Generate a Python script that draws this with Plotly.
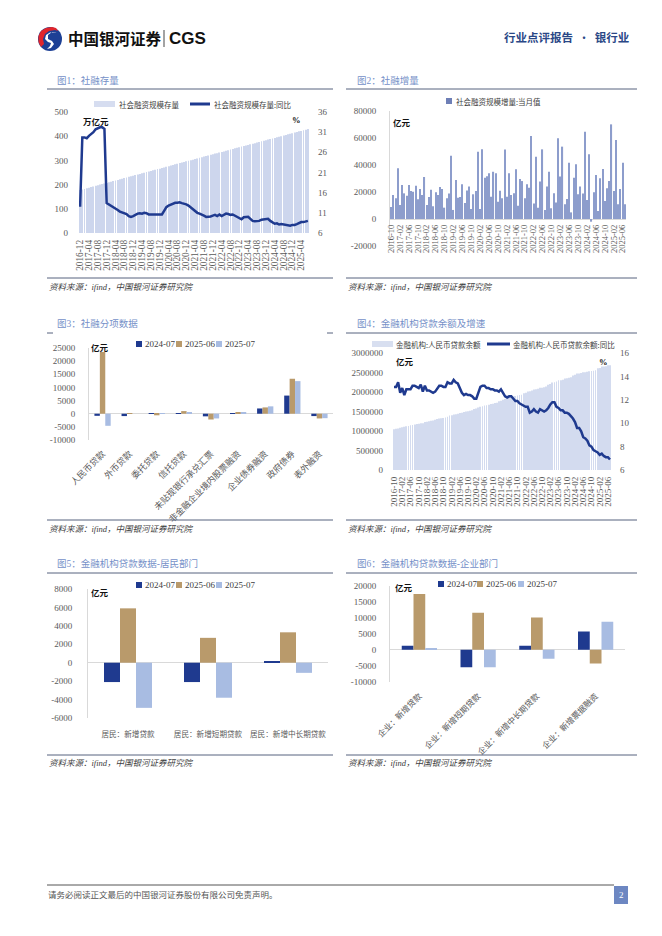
import plotly.graph_objects as go

W, H = 662, 936
def X(p): return p / W
def Y(p): return 1 - p / H

SERIF = "Liberation Serif, Noto Sans CJK SC, serif"
SANS = "Noto Sans CJK SC, Liberation Sans, sans-serif"

TITLE_C = "#7590c8"
RULE_C = "#56627e"
TICK_C = "#595959"
NAVY = "#1f3a8f"
TAN = "#b99a6b"
LIGHT = "#a8bce2"
AXIS_C = "#d9d9d9"
C1_BAR = "#cdd6ed"
C2_BAR = "#8d9dcc"
C4_BAR = "#d3dbef"


def month_list(y, m, n):
    out = []
    for _ in range(n):
        out.append(f"{y}-{m:02d}")
        m += 1
        if m > 12:
            m, y = 1, y + 1
    return out

# ---------------- Chart 1: 社融存量 (万亿元) & 同比 (%) ----------------
c1_months = month_list(2016, 12, 104)
c1_stock = [
    178,
    180, 182, 185, 187, 190, 192, 195, 197, 200, 202, 205, 207,
    210, 212, 215, 217, 219, 222, 224, 227, 229, 232, 234, 237,
    240, 242, 244, 247, 249, 252, 254, 256, 259, 261, 264, 266,
    269, 271, 274, 276, 279, 281, 284, 286, 289, 291, 293, 296,
    299, 301, 303, 306, 308, 311, 313, 316, 318, 320, 323, 325,
    328, 330, 333, 335, 337, 340, 342, 345, 347, 350, 352, 354,
    357, 359, 362, 364, 367, 369, 371, 374, 376, 379, 381, 383,
    386, 388, 391, 393, 396, 398, 400, 403, 405, 408, 410, 412,
    415, 417, 420, 422, 425, 427, 430,
]
c1_yoy = [
    12.5,
    29.7, 29.7, 29.5, 30.1, 30.5, 31.0, 31.7, 32.0, 32.2, 32.2, 31.8, 13.4,
    13.1, 12.8, 12.5, 12.1, 11.7, 11.3, 11.1, 10.9, 10.7, 10.2, 10.0, 10.2,
    10.6, 10.8, 10.9, 10.8, 11.0, 10.9, 10.6, 10.6, 10.6, 10.6, 10.6, 10.6,
    10.6, 11.5, 12.4, 12.8, 13.1, 13.4, 13.5, 13.5, 13.6, 13.4, 13.3, 13.1,
    12.8, 12.3, 11.8, 11.4, 11.0, 10.8, 10.6, 10.3, 10.0, 10.0, 10.1, 10.3,
    10.5, 10.2, 10.6, 10.2, 10.5, 10.8, 10.7, 10.5, 10.6, 10.3, 10.0, 9.6,
    9.4, 9.9, 10.0, 10.0, 9.5, 9.0, 8.9, 9.0, 9.0, 9.3, 9.4, 9.5,
    9.5, 9.0, 8.7, 8.3, 8.4, 8.1, 8.2, 8.1, 8.0, 7.8, 7.8, 8.0,
    8.0, 8.2, 8.4, 8.7, 8.7, 8.9, 9.0,
]
c1_ticks = c1_months[::4]

# ---------------- Chart 2: 社融增量 当月值 (亿元) ----------------
c2_months = month_list(2016, 10, 106)
c2_flow = [
    8900, 17800, 15300,
    37500, 10400, 25200, 19000, 17300, 25200, 20700, 20200, 24700, 14600, 22200, 17800,
    31100, 10400, 16300, 21700, 9500, 19800, 17800, 23700, 22200, 8400, 15300, 18800,
    46900, 6700, 28900, 15800, 16300, 25700, 11900, 21200, 24000, 7400, 18300, 20700,
    49900, 7400, 51600, 30600, 31600, 33800, 16500, 35000, 33800, 12800, 21000, 15300,
    51400, 16500, 33800, 17800, 19000, 36800, 9900, 29600, 28100, 15300, 25700, 23200,
    61500, 11400, 46200, 8400, 27700, 51600, 6700, 24000, 35000, 7900, 19000, 12300,
    59800, 31400, 53600, 10900, 14800, 41700, 4900, 30600, 40500, 18300, 24000, 18800,
    64700, 14100, 47900, -2000, 19800, 32600, 5900, 30100, 37000, 13300, 22700, 28100,
    70100, 20700, 58500, 10900, 22200, 41700, 10900,
]
c2_ticks = c2_months[::4]

# ---------------- Chart 3: 社融分项数据 (亿元) ----------------
c3_cats = ["人民币贷款", "外币贷款", "委托贷款", "信托贷款", "未贴现银行承兑汇票",
           "非金融企业境内股票融资", "企业债券融资", "政府债券", "表外融资"]
c3_2407 = [-800, -900, 200, 100, -1000, 200, 2000, 6900, -900]
c3_2506 = [23500, 200, -600, 1000, -2200, 300, 2400, 13300, -1800]
c3_2507 = [-4600, 0, 100, 300, -1800, 600, 2800, 12400, -1700]

# ---------------- Chart 4: 金融机构人民币贷款余额 (亿元) & 同比 (%) ----------------
c4_months = month_list(2016, 10, 106)
c4_loans = [
    1046000, 1058000, 1066000,
    1086000, 1096000, 1108000, 1119000, 1130000, 1146000, 1154000, 1165000, 1177000, 1184000, 1196000, 1201000,
    1230000, 1238000, 1249000, 1260000, 1271000, 1290000, 1305000, 1318000, 1328000, 1336000, 1349000, 1363000,
    1396000, 1405000, 1422000, 1432000, 1443000, 1460000, 1471000, 1484000, 1501000, 1507000, 1521000, 1531000,
    1566000, 1575000, 1603000, 1620000, 1635000, 1652000, 1662000, 1675000, 1694000, 1701000, 1716000, 1727000,
    1763000, 1776000, 1804000, 1819000, 1839000, 1860000, 1871000, 1883000, 1900000, 1908000, 1920000, 1927000,
    1967000, 1980000, 2011000, 2017000, 2036000, 2064000, 2068000, 2081000, 2106000, 2112000, 2123000, 2140000,
    2189000, 2207000, 2246000, 2253000, 2267000, 2300000, 2303000, 2317000, 2346000, 2353000, 2364000, 2376000,
    2426000, 2441000, 2477000, 2476000, 2486000, 2508000, 2509000, 2519000, 2535000, 2536000, 2547000, 2557000,
    2608000, 2618000, 2654000, 2657000, 2663000, 2686000, 2685000,
]
c4_yoy = [
    13.1, 13.1, 13.5,
    12.6, 13.0, 12.4, 12.9, 12.9, 12.9, 13.2, 13.2, 13.1, 13.0, 13.3, 12.7,
    13.2, 12.8, 12.8, 12.7, 12.6, 12.7, 13.0, 13.2, 13.2, 13.1, 13.1, 13.5,
    13.4, 13.4, 13.7, 13.5, 13.4, 13.0, 12.6, 12.4, 12.5, 12.4, 12.4, 12.3,
    12.1, 12.1, 12.7, 13.1, 13.2, 13.2, 13.0, 13.0, 12.9, 12.9, 12.8, 12.8,
    12.7, 12.9, 12.6, 12.3, 12.2, 12.3, 12.3, 12.1, 11.9, 11.9, 11.7, 11.6,
    11.5, 11.4, 11.4, 10.9, 11.0, 11.2, 11.0, 10.9, 11.2, 11.1, 11.0, 11.1,
    11.3, 11.6, 11.8, 11.8, 11.4, 11.3, 11.1, 11.1, 10.9, 10.9, 10.8, 10.6,
    10.4, 10.1, 9.6, 9.6, 9.3, 8.8, 8.7, 8.5, 8.1, 8.0, 7.7, 7.6,
    7.5, 7.3, 7.4, 7.2, 7.1, 7.1, 6.9,
]
c4_ticks = c4_months[::4]

# ---------------- Chart 5: 居民部门 (亿元) ----------------
c5_cats = ["居民：新增贷款", "居民：新增短期贷款", "居民：新增中长期贷款"]
c5_2407 = [-2100, -2100, 100]
c5_2506 = [5900, 2700, 3300]
c5_2507 = [-4900, -3800, -1100]

# ---------------- Chart 6: 企业部门 (亿元) ----------------
c6_cats = ["企业：新增贷款", "企业：新增短期贷款", "企业：新增中长期贷款", "企业：新增票据融资"]
c6_2407 = [1300, -5500, 1300, 5700]
c6_2506 = [17500, 11600, 10100, -4300]
c6_2507 = [500, -5500, -2800, 8800]

series_names = ["2024-07", "2025-06", "2025-07"]
series_colors = [NAVY, TAN, LIGHT]

fig = go.Figure()

# Chart 1
fig.add_trace(go.Bar(x=c1_months, y=c1_stock, width=0.4, marker=dict(color=C1_BAR, line=dict(width=0)),
                     name="社会融资规模存量", xaxis="x", yaxis="y"))
fig.add_trace(go.Scatter(x=c1_months, y=c1_yoy, mode="lines", line=dict(color=NAVY, width=2.5),
                         name="社会融资规模存量:同比", xaxis="x", yaxis="y2"))
# Chart 2
fig.add_trace(go.Bar(x=c2_months, y=c2_flow, width=0.5, marker=dict(color=C2_BAR, line=dict(width=0)),
                     name="社会融资规模增量:当月值", xaxis="x2", yaxis="y3"))
# Chart 3
for nm, vals, col in zip(series_names, [c3_2407, c3_2506, c3_2507], series_colors):
    fig.add_trace(go.Bar(x=c3_cats, y=vals, name=nm, marker=dict(color=col, line=dict(width=0)),
                         xaxis="x3", yaxis="y4"))
# Chart 4
fig.add_trace(go.Bar(x=c4_months, y=c4_loans, width=0.4, marker=dict(color=C4_BAR, line=dict(width=0)),
                     name="金融机构:人民币贷款余额", xaxis="x4", yaxis="y5"))
fig.add_trace(go.Scatter(x=c4_months, y=c4_yoy, mode="lines", line=dict(color=NAVY, width=2.5),
                         name="金融机构:人民币贷款余额:同比", xaxis="x4", yaxis="y6"))
# Chart 5
for nm, vals, col in zip(series_names, [c5_2407, c5_2506, c5_2507], series_colors):
    fig.add_trace(go.Bar(x=c5_cats, y=vals, name=nm, marker=dict(color=col, line=dict(width=0)),
                         xaxis="x5", yaxis="y7"))
# Chart 6
for nm, vals, col in zip(series_names, [c6_2407, c6_2506, c6_2507], series_colors):
    fig.add_trace(go.Bar(x=c6_cats, y=vals, name=nm, marker=dict(color=col, line=dict(width=0)),
                         xaxis="x6", yaxis="y8"))


def tickfont(size=9, fam=SERIF):
    return dict(size=size, color=TICK_C, family=fam)


def xcat(dom, anchor, ticks=None, angle=0, size=8.5, standoff=4, fam=SERIF, **kw):
    d = dict(domain=[X(dom[0]), X(dom[1])], anchor=anchor, type="category",
             tickangle=angle, tickfont=tickfont(size, fam), showgrid=False, zeroline=False,
             showline=False, ticks="", ticklabelstandoff=standoff, automargin=False, fixedrange=True)
    if ticks is not None:
        d.update(tickmode="array", tickvals=ticks, ticktext=ticks)
    d.update(kw)
    return d


def ylin(dom, anchor, lo, hi, step, standoff=10, side="left", line=False, zero=False, **kw):
    vals = list(range(lo, hi + 1, step))
    d = dict(domain=[Y(dom[1]), Y(dom[0])], anchor=anchor, range=[lo, hi], side=side,
             tickmode="array", tickvals=vals, ticktext=[str(v) for v in vals],
             tickfont=tickfont(9), showgrid=False, zeroline=zero, zerolinecolor=AXIS_C, zerolinewidth=1,
             showline=line, linecolor=AXIS_C, linewidth=1, ticks="", ticklabelstandoff=standoff,
             automargin=False, fixedrange=True)
    d.update(kw)
    return d

# chart 2 x axis sits on the zero line
c2_lo, c2_hi = -20000, 80000
c2_dom = (111, 246)
c2_zero_pos = Y(c2_dom[1]) + (0 - c2_lo) / (c2_hi - c2_lo) * (Y(c2_dom[0]) - Y(c2_dom[1]))

layout_axes = dict(
    xaxis=xcat((79, 309), "y", c1_ticks, angle=-90, size=9.3, standoff=4),
    yaxis=ylin((112, 233), "x", 0, 500, 100, standoff=10),
    yaxis2=ylin((112, 233), "x", 6, 36, 5, standoff=8, side="right", overlaying="y"),

    xaxis2=xcat((390, 626), "free", c2_ticks, angle=-90, size=8.5, standoff=3, position=c2_zero_pos),
    yaxis3=ylin(c2_dom, "x2", c2_lo, c2_hi, 20000, standoff=11, line=True, zero=True),

    xaxis3=xcat((89, 333), "y4", None, angle=-45, size=8.8, standoff=6, fam=SANS),
    yaxis4=ylin((348, 440), "x3", -10000, 25000, 5000, standoff=11, line=True, zero=True),

    xaxis4=xcat((393, 611), "y5", c4_ticks, angle=-90, size=9, standoff=4),
    yaxis5=ylin((353, 470), "x4", 0, 3000000, 500000, standoff=9),
    yaxis6=ylin((353, 470), "x4", 6, 16, 2, standoff=8, side="right", overlaying="y5"),

    xaxis5=xcat((88, 328), "y7", None, angle=0, size=7.6, standoff=10, fam=SANS),
    yaxis7=ylin((589, 718), "x5", -6000, 8000, 2000, standoff=13, line=True, zero=True),

    xaxis6=xcat((390, 625), "y8", None, angle=-45, size=8.3, standoff=7, fam=SANS),
    yaxis8=ylin((586, 681.7), "x6", -10000, 20000, 5000, standoff=11, line=True, zero=True),
)

shapes = []
annotations = []


def hline(x0, x1, y, color=RULE_C, width=1):
    shapes.append(dict(type="line", xref="paper", yref="paper", x0=X(x0), x1=X(x1), y0=Y(y), y1=Y(y),
                       line=dict(color=color, width=width)))


def rect(x0, x1, y0, y1, color):
    shapes.append(dict(type="rect", xref="paper", yref="paper", x0=X(x0), x1=X(x1), y0=Y(y1), y1=Y(y0),
                       fillcolor=color, line=dict(width=0)))


def text(t, x, y, size=8.5, color="#333333", xanchor="left", yanchor="middle", fam=SANS):
    annotations.append(dict(text=t, x=X(x), y=Y(y), xref="paper", yref="paper", showarrow=False,
                            xanchor=xanchor, yanchor=yanchor, font=dict(size=size, color=color, family=fam),
                            borderpad=0))

# ---------- header ----------
shapes.append(dict(type="circle", xref="paper", yref="paper", x0=X(38), x1=X(62), y0=Y(51), y1=Y(27),
                   fillcolor="#1d4095", line=dict(width=0)))


def path(pts):
    return "M" + " L".join(f"{X(x):.5f},{Y(y):.5f}" for x, y in pts) + " Z"

shapes.append(dict(type="path", xref="paper", yref="paper",
                   path=path([(52, 27), (46, 28), (41, 31), (38.5, 36), (38.5, 42), (41, 47), (44, 44),
                              (43, 39), (45, 34), (49, 31), (55, 30), (58, 31), (56, 28)]),
                   fillcolor="#e1252b", line=dict(width=0)))
shapes.append(dict(type="path", xref="paper", yref="paper",
                   path=path([(57, 32), (52, 32), (48, 35), (48, 39), (52, 41), (54, 44), (51, 48), (47, 49),
                              (50, 46), (51, 43), (48, 42), (45, 39), (46, 35), (50, 32.5)]),
                   fillcolor="white", line=dict(width=0)))
text("<b>中国银河证券</b>", 67, 38.5, size=15.5, color="#111111", fam=SANS)
shapes.append(dict(type="line", xref="paper", yref="paper", x0=X(164), x1=X(164), y0=Y(30), y1=Y(47),
                   line=dict(color="#666666", width=1.2)))
text("<b>CGS</b>", 168, 38.5, size=17, color="#111111", fam="Liberation Sans, Arial, sans-serif")
text("<b>行业点评报告</b>  ·  <b>银行业</b>", 630, 37, size=11.5, color="#2a4786", xanchor="right", fam=SANS)

# ---------- panels: titles, rules, sources ----------
panels = [
    ("图1：社融存量", 56, 80, 47, 333, 89, 278, 287),
    ("图2：社融增量", 356, 80, 346, 637, 89, 278, 287),
    ("图3：社融分项数据", 56, 323, 47, 333, None, 520, 529),
    ("图4：金融机构贷款余额及增速", 356, 323, 346, 637, 333, 520, 529),
    ("图5：金融机构贷款数据-居民部门", 56, 563, 47, 333, 573, 755, 763),
    ("图6：金融机构贷款数据-企业部门", 356, 563, 346, 637, 573, 755, 763),
]
for title, tx, ty, lx0, lx1, uy, by, sy in panels:
    text(title, tx, ty, size=9.5, color=TITLE_C, fam=SERIF)
    if uy is not None:
        hline(lx0, lx1, uy)
    hline(lx0, lx1, by)
    text("<i>资料来源：ifind，中国银河证券研究院</i>", lx0 + 1, sy, size=8.5, color="#404040", fam=SERIF)
# chart 3 title rule only shows its ends
hline(47, 53, 333)
hline(327, 333, 333)

# ---------- legends ----------
LEG_C = "#404040"
# chart 1
rect(94, 115, 101, 107, "#d6ddf0")
text("社会融资规模存量", 118, 104, size=7.5, color=LEG_C)
hline(190, 210, 104, color=NAVY, width=3)
text("社会融资规模存量:同比", 213, 104, size=7.5, color=LEG_C)
# chart 2
rect(446, 452, 98, 104, "#6e7fb6")
text("社会融资规模增量:当月值", 455, 101, size=7.5, color=LEG_C)
# chart 4
rect(372, 393, 341, 347, "#d8dff0")
text("金融机构:人民币贷款余额", 395, 344, size=7.5, color=LEG_C)
hline(487, 510, 344, color=NAVY, width=3)
text("金融机构:人民币贷款余额:同比", 512, 344, size=7.5, color=LEG_C)
# charts 3, 5, 6
for xs, yc in [((136, 176, 216), 344), ((136, 176, 216), 585), ((438, 477, 518), 584)]:
    for x0, nm, col in zip(xs, series_names, series_colors):
        rect(x0, x0 + 6, yc - 3, yc + 3, col)
        text(nm, x0 + 8, yc, size=9, color=LEG_C, fam=SERIF)

# ---------- unit labels ----------
text("<b>万亿元</b>", 82, 121, size=8.5, color="#111111")
text("<b>%</b>", 291, 120, size=8.5, color="#111111", fam=SERIF)
text("<b>亿元</b>", 392, 122, size=8.5, color="#111111")
text("<b>亿元</b>", 90, 347, size=8.5, color="#111111")
text("<b>亿元</b>", 395, 361, size=8.5, color="#111111")
text("<b>%</b>", 598, 362, size=8.5, color="#111111", fam=SERIF)
text("<b>亿元</b>", 90, 592, size=8.5, color="#111111")
text("<b>亿元</b>", 394, 587, size=8.5, color="#111111")

# ---------- footer ----------
hline(47, 614, 885, color="#555555", width=1)
text("请务必阅读正文最后的中国银河证券股份有限公司免责声明。", 47, 895, size=8.5, color="#555555", fam=SERIF)
rect(614, 628, 886, 904, "#6d87c2")
text("2", 621, 895, size=9, color="white", xanchor="center", fam=SERIF)

fig.update_layout(
    width=W, height=H, autosize=False,
    margin=dict(l=0, r=0, t=0, b=0),
    paper_bgcolor="white", plot_bgcolor="white",
    showlegend=False, barmode="group", bargap=0.4, bargroupgap=0,
    font=dict(family=SERIF, size=9, color=TICK_C),
    shapes=shapes, annotations=annotations,
    **layout_axes,
)

fig.write_html("out.html", config={"displayModeBar": False},
               post_script="document.body.style.margin='0';")
